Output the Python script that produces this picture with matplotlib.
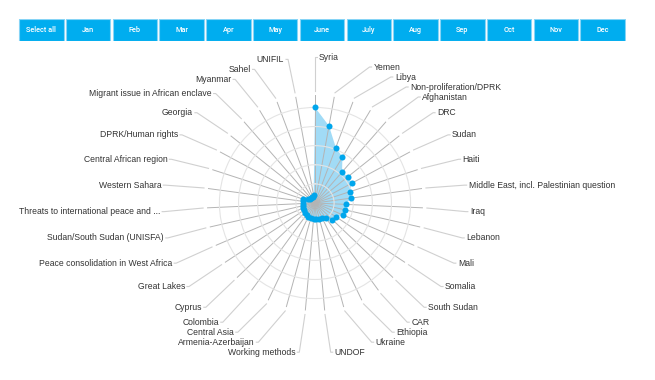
import numpy as np
import matplotlib.pyplot as plt
from matplotlib.patches import Rectangle

W, H = 655, 380

months = ["Select all", "Jan", "Feb", "Mar", "Apr", "May", "June",
          "July", "Aug", "Sep", "Oct", "Nov", "Dec"]

categories = [
    "Syria", "Yemen", "Libya", "Non-proliferation/DPRK", "Afghanistan",
    "DRC", "Sudan", "Haiti", "Middle East, incl. Palestinian question",
    "Iraq", "Lebanon", "Mali", "Somalia", "South Sudan", "CAR", "Ethiopia",
    "Ukraine", "UNDOF", "Working methods", "Armenia-Azerbaijan",
    "Central Asia", "Colombia", "Cyprus", "Great Lakes",
    "Peace consolidation in West Africa", "Sudan/South Sudan (UNISFA)",
    "Threats to international peace and ...", "Western Sahara",
    "Central African region", "DPRK/Human rights", "Georgia",
    "Migrant issue in African enclave", "Myanmar", "Sahel", "UNIFIL",
]

values = [
    50, 41, 31, 28, 21.5, 22, 22, 19, 19, 16, 16, 16, 13, 12.5, 9.5, 9,
    8.5, 8.5, 8.5, 8, 8, 7.5, 7.5, 7, 7, 6.5, 6.5, 6.5, 6.5, 4, 3.5, 3.5,
    3.5, 3.5, 4,
]

grid_levels = [10, 20, 30, 40, 50]
r_max = 56.5

BLUE = "#00adef"
TEXT = "#333333"


def spread(ys, top, bottom, gap):
    # ys go from top to bottom (y axis points up)
    out = list(ys)
    for i in range(len(out)):
        lim = top if i == 0 else out[i - 1] - gap
        out[i] = min(out[i], lim)
    for i in range(len(out) - 1, -1, -1):
        lim = bottom if i == len(out) - 1 else out[i + 1] + gap
        out[i] = max(out[i], lim)
    return out


fig = plt.figure(figsize=(W / 100, H / 100), dpi=100)

# month buttons
bax = fig.add_axes([18 / W, (H - 41) / H, 608 / W, 22 / H])
bax.set_xlim(0, len(months))
bax.set_ylim(0, 1)
bax.axis("off")
for i, m in enumerate(months):
    bax.add_patch(Rectangle((i + 0.025, 0.02), 0.95, 0.96, facecolor=BLUE,
                            edgecolor="#86d4f6", lw=0.8))
    bax.text(i + 0.5, 0.5, m, color="white", fontsize=5.3,
             fontweight="medium", family="Roboto", ha="center", va="center")

# radar
ax = fig.add_axes([(315 - 108) / W, (H - 203 - 108) / H, 216 / W, 216 / H],
                  projection="polar")
ax.set_theta_zero_location("N")
ax.set_theta_direction(-1)
theta = np.deg2rad(np.arange(len(categories)) * 360 / len(categories))

ax.fill(theta, values, color="#2fb0ec", alpha=0.45, lw=0, zorder=1)
ax.scatter(theta, values, s=19, color="#00a6ec", lw=0, zorder=3,
           clip_on=False)

ax.set_ylim(0, r_max)
ax.set_yticks(grid_levels)
ax.set_yticklabels([])
ax.set_xticks(theta)
ax.set_xticklabels([])
ax.tick_params(length=0)
ax.xaxis.grid(True, color="#b4b4b4", lw=0.7)
ax.yaxis.grid(True, color="#e4e4e4", lw=0.8)
ax.spines["polar"].set_visible(False)
ax.patch.set_alpha(0)

# labels with connectors, placed like pie data labels
lax = fig.add_axes([0, 0, 1, 1])
lax.set_xlim(0, W)
lax.set_ylim(0, H)
lax.axis("off")
lax.patch.set_alpha(0)

cx, cy = ax.transData.transform((0, 0))
cyl = cy - 2
ry, rx = 148, 151
gap = 10

deg = np.rad2deg(theta)
natural = cyl + ry * np.cos(theta)
right = [i for i in range(len(categories)) if deg[i] < 180]
left = [i for i in range(len(categories)) if deg[i] >= 180][::-1]

for side, sign, ha in [(right, 1, "left"), (left, -1, "right")]:
    ys = spread([natural[i] for i in side], cyl + ry, cyl - ry + 0.8, gap)
    for i, y in zip(side, ys):
        ex, ey = ax.transData.transform((theta[i], r_max * 112 / 108))
        k = max(0.0, 1 - ((y - cyl) / ry) ** 2)
        x_anchor = cx + sign * rx * np.sqrt(k)
        lax.plot([ex, x_anchor, x_anchor + sign * 2], [ey, y, y],
                 color="#d0d0d0", lw=0.8)
        lax.text(x_anchor + sign * 4, y, categories[i], ha=ha, va="center",
                 fontsize=6.2, family="Liberation Sans", color=TEXT)

fig.savefig("out.png", dpi=100)
